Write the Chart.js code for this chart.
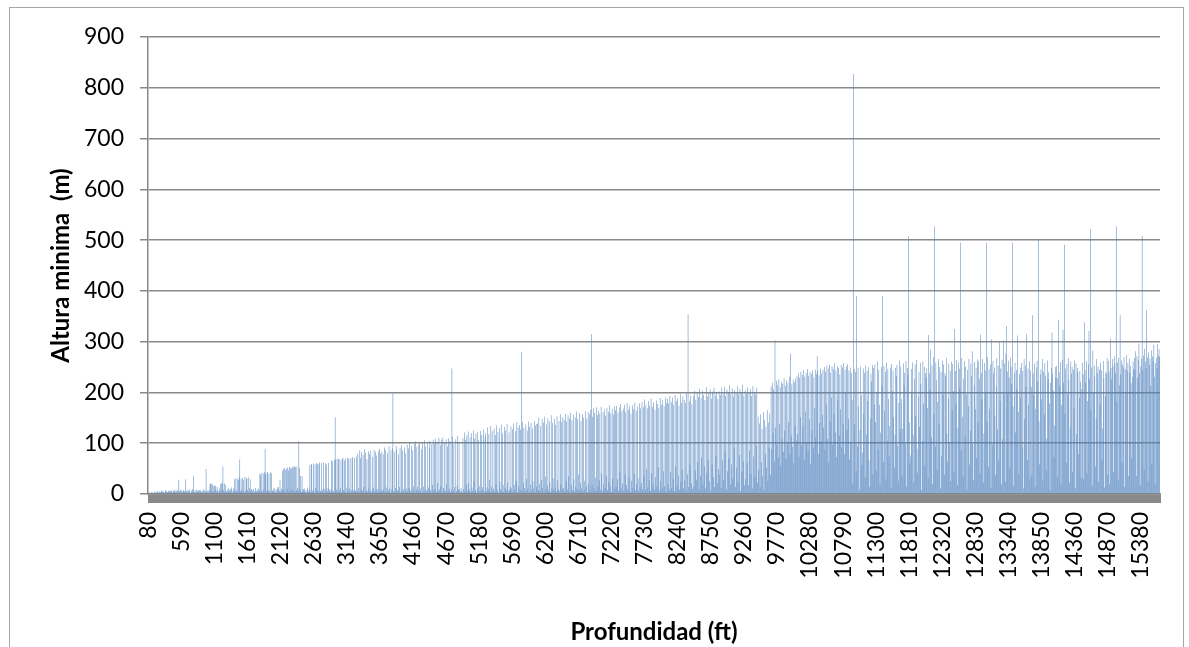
<!DOCTYPE html>
<html>
<head>
<meta charset="utf-8">
<title>Altura minima vs Profundidad</title>
<script src="https://cdn.jsdelivr.net/npm/chart.js@4.4.1/dist/chart.umd.min.js"></script>
<style>
  body { margin: 0; background: #ffffff; }
  canvas { display: block; }
</style>
</head>
<body>
<canvas id="barChart" width="1189" height="647"></canvas>
<script>
// Profundidad: cada 10 ft desde 80 ft
const depthStart = 80;
const depthStep = 10;

// Etiquetas visibles del eje X
const xTickLabels = [80, 590, 1100, 1610, 2120, 2630, 3140, 3650, 4160, 4670, 5180,
  5690, 6200, 6710, 7220, 7730, 8240, 8750, 9260, 9770, 10280, 10790, 11300,
  11810, 12320, 12830, 13340, 13850, 14360, 14870, 15380];

// Altura minima (m), tramo 80 - 4070 ft
const alturaTramo1 = [
  2,1,3,2,1,4,2,3,1,2, 5,3,2,4,6,3,2,5,4,3, 6,7,4,3,5,2,6,8,5,4, 3,6,7,5,4,8,6,3,5,7,
  6,9,4,7,3,8,5,28,6,4, 9,7,3,5,8,6,4,29,7,5, 3,8,6,9,4,2,7,5,10,6, 35,4,8,3,6,9,5,7,4,8,
  5,8,3,6,4,9,2,7,5,49, 6,4,8,3,7,19,21,20,6,18, 4,15,17,9,16,5,14,8,3,6, 11,19,7,22,20,54,8,21,4,18,
  6,3,9,12,5,8,4,10,13,7, 3,11,6,29,5,31,8,30,4,27, 33,68,6,30,9,32,5,28,3,34, 7,31,30,8,33,4,12,29,6,10,
  8,4,10,6,3,12,7,5,9,4, 11,6,40,38,7,42,5,41,9,43, 89,39,6,44,42,8,40,5,43,3, 41,7,6,10,4,12,5,9,3,13,
  9,14,6,28,5,11,7,46,49,8, 51,4,48,50,10,52,47,6,53,51, 9,50,54,7,52,55,5,53,8,54, 12,6,104,51,9,36,4,35,7,10,
  6,11,4,8,3,13,7,5,10,57, 4,59,58,6,9,60,3,58,12,61, 8,59,5,60,62,7,4,61,9,6, 62,11,3,60,8,58,5,12,61,7,
  10,4,66,8,65,6,3,68,151,67, 9,69,5,68,70,7,12,67,4,69, 71,8,66,5,70,3,13,72,6,69, 11,71,4,8,70,73,5,9,71,6,
  7,74,5,80,12,4,86,71,9,82, 6,77,14,88,3,81,8,69,5,84, 11,79,6,85,4,9,73,13,87,5, 83,7,76,10,4,85,89,6,80,8,
  84,6,79,10,92,4,87,13,5,81, 7,94,11,3,86,9,90,198,6,83, 4,12,95,88,8,5,78,14,91,3, 96,7,85,10,4,92,80,6,11,97
];

// tramo 4080 - 8070 ft
const alturaTramo2 = [
  5,90,12,101,7,3,95,86,9,16, 99,4,104,8,93,14,6,97,103,5, 11,88,3,100,15,7,106,94,4,9, 102,6,13,91,105,8,3,98,18,107,
  7,99,10,109,4,102,22,6,111,9, 96,15,107,3,112,12,8,101,5,108, 19,94,6,110,11,104,4,9,247,113, 7,98,14,3,108,6,17,114,10,103,
  8,4,12,6,3,110,10,121,5,107, 18,115,7,123,21,9,112,4,119,13, 6,125,25,109,8,118,3,122,11,106, 16,5,124,7,116,14,9,127,4,113,
  120,6,13,131,9,118,28,4,134,15, 124,7,11,129,5,116,19,135,8,122, 3,130,24,10,137,6,119,17,4,132, 12,125,8,138,22,5,121,9,14,133,
  11,128,5,139,18,8,124,26,141,4, 131,15,136,9,127,280,7,142,21,130, 12,6,137,30,125,9,143,4,133,18, 140,7,129,25,11,144,3,135,14,138,
  139,8,150,19,6,134,28,147,12,141, 5,152,34,9,137,16,149,7,143,22, 4,155,11,140,31,8,148,13,136,5, 153,27,10,144,6,157,18,142,9,151,
  12,146,6,158,24,143,9,155,35,149, 4,160,17,145,8,156,29,5,151,14, 162,10,147,38,7,159,21,144,11,157, 6,150,26,9,163,15,148,4,161,20,
  157,8,166,315,18,152,169,11,160,32, 6,171,155,14,164,27,158,9,172,41, 5,161,19,167,12,154,36,170,8,162, 23,175,15,159,4,168,30,156,10,173,
  165,14,174,29,160,7,171,44,177,11, 163,21,168,6,176,38,161,17,179,9, 166,33,173,5,158,26,175,12,167,40, 180,8,164,19,172,31,6,178,15,169,
  22,181,10,171,37,186,8,175,49,169, 13,183,27,174,6,188,41,172,18,180, 9,166,33,184,14,177,52,170,7,189, 25,176,11,185,45,173,16,190,5,179
];

// tramo 8080 - 12070 ft
const alturaTramo3 = [
  187,19,178,8,193,43,181,12,190,30, 176,6,195,55,183,15,188,36,174,9, 197,24,180,48,192,11,185,27,179,7, 198,39,354,14,182,58,194,21,177,10,
  193,16,203,47,186,28,200,63,191,9, 207,35,189,72,204,18,195,54,185,11, 210,41,192,67,199,25,206,7,188,58, 202,33,209,14,194,76,201,22,187,49,
  202,38,195,12,209,66,198,27,211,83, 193,9,206,45,200,71,214,19,197,58, 208,31,192,90,205,14,199,52,212,24, 196,77,207,6,201,43,215,64,194,17,
  204,29,197,61,210,17,199,85,207,40, 193,11,212,74,201,33,196,96,209,22, 152,48,139,14,157,63,128,35,161,8, 146,79,133,52,165,26,141,91,158,37,
  212,88,219,120,207,64,303,131,223,97, 215,72,226,138,210,56,221,109,217,83, 228,125,213,69,224,101,219,142,231,78, 276,115,216,93,225,61,220,134,227,105,
  232,118,238,74,229,151,241,96,235,133, 244,67,231,162,239,102,246,85,233,147, 240,58,237,125,243,91,230,169,245,112, 236,272,242,79,234,140,247,104,238,156,
  244,131,250,88,241,176,253,109,247,62, 255,143,239,190,251,97,246,158,257,121, 243,73,252,184,248,115,236,167,254,92, 249,138,258,79,245,199,251,126,256,148,
  243,68,249,102,238,185,21,827,246,137, 241,44,390,94,248,173,9,126,251,195, 57,81,247,158,239,33,253,117,242,183, 250,66,14,149,237,221,254,38,248,176,
  255,142,47,199,261,87,244,176,18,121, 250,213,390,63,253,164,241,29,259,105, 246,187,74,134,249,12,256,203,243,151, 52,116,248,232,254,95,26,179,263,128,
  251,187,36,129,257,214,239,98,262,15, 248,235,508,141,61,76,246,201,259,117, 23,226,255,153,264,89,42,192,241,132, 258,217,8,104,261,178,250,55,238,229
];

// tramo 12080 - 15670 ft
const alturaTramo4 = [
  247,169,31,313,238,205,285,112,253,19, 270,158,527,93,259,224,48,181,266,137, 250,11,241,74,263,196,255,38,238,233, 268,119,64,187,257,102,242,25,261,165,
  256,203,44,325,242,178,264,17,131,259, 247,209,495,86,268,152,35,227,262,113, 251,196,9,244,173,266,58,124,257,232, 281,98,27,215,260,167,248,71,265,141,
  261,227,41,314,239,186,266,22,119,258, 243,201,495,142,270,53,246,168,255,13, 305,97,262,238,249,154,37,211,268,127, 253,66,299,183,247,19,264,108,302,196,
  257,24,276,331,241,198,263,229,52,268, 250,217,495,173,16,238,259,121,244,207, 312,162,39,236,249,189,258,92,242,11, 266,147,253,211,315,67,247,176,262,29,
  243,211,37,352,238,195,257,14,168,249, 262,221,501,143,58,236,245,187,266,26, 241,157,258,233,47,109,263,226,240,178, 9,219,248,318,237,204,73,135,250,229,
  252,228,34,343,240,213,259,18,176,264, 324,219,491,158,247,61,256,196,268,225, 22,131,261,237,250,44,245,168,263,12, 257,118,248,240,79,189,242,221,31,207,
  258,236,29,338,244,219,262,41,183,255, 321,227,522,167,249,16,283,201,253,232, 54,148,266,238,251,24,245,176,259,243, 66,129,262,228,13,193,241,237,268,38,
  262,241,19,306,248,226,266,252,43,271, 257,238,527,181,259,27,268,214,352,236, 263,62,255,249,270,14,246,197,274,243, 258,35,267,239,252,218,71,231,261,246,
  268,243,281,36,272,229,264,296,238,17, 251,267,508,244,273,48,286,261,248,362, 269,25,279,255,266,213,283,59,271,262, 294,231,21,258,268,247,296,273,285,270
];

const alturaMinima = [].concat(alturaTramo1, alturaTramo2, alturaTramo3, alturaTramo4);
const depths = alturaMinima.map((_, i) => depthStart + i * depthStep);
const shownLabels = new Set(xTickLabels);

const fontFamily = 'Lato, "Open Sans", sans-serif';
const axisGray = '#898989';

// marco exterior del grafico
const chartFrame = {
  id: 'chartFrame',
  beforeDraw(chart) {
    const c = chart.ctx;
    c.save();
    c.fillStyle = '#ffffff';
    c.fillRect(0, 0, chart.width, chart.height);
    c.strokeStyle = '#a6a6a6';
    c.lineWidth = 1;
    c.strokeRect(9.5, 7.5, 1174, 660);
    c.restore();
  }
};

const ctx = document.getElementById('barChart').getContext('2d');
const myBarChart = new Chart(ctx, {
  type: 'bar',
  data: {
    labels: depths,
    datasets: [{
      label: 'Altura minima',
      data: alturaMinima,
      backgroundColor: '#4F81BD',
      borderWidth: 0,
      categoryPercentage: 0.8,
      barPercentage: 1
    }]
  },
  options: {
    responsive: false,
    animation: false,
    devicePixelRatio: 1,
    layout: { padding: { left: 0, top: 37, right: 29, bottom: 0 } },
    plugins: {
      legend: { display: false },
      tooltip: { enabled: false }
    },
    scales: {
      x: {
        grid: {
          display: true,
          drawOnChartArea: false,
          drawTicks: true,
          tickLength: 9,
          tickColor: axisGray,
          lineWidth: 1
        },
        border: { color: axisGray, width: 1.5 },
        ticks: {
          autoSkip: false,
          minRotation: 90,
          maxRotation: 90,
          padding: 9,
          color: '#000000',
          font: { family: fontFamily, size: 23 },
          callback: function(value, index) {
            const d = depths[index];
            return shownLabels.has(d) ? String(d) : '';
          }
        },
        title: {
          display: true,
          text: 'Profundidad (ft)',
          color: '#000000',
          font: { family: fontFamily, size: 24, weight: 'bold' },
          padding: { top: 0, bottom: 0 }
        },
        afterFit(scale) {
          scale.height = 153;
          // la ultima etiqueta va vacia, no hace falta reservar margen
          scale.paddingLeft = 0;
          scale.paddingRight = 0;
        }
      },
      y: {
        min: 0,
        max: 900,
        ticks: {
          stepSize: 100,
          padding: 16,
          color: '#000000',
          font: { family: fontFamily, size: 23 }
        },
        grid: { color: axisGray, lineWidth: 1.5, tickLength: 8, tickColor: axisGray },
        border: { color: axisGray, width: 1.5 },
        title: {
          display: true,
          text: 'Altura minima  (m)',
          color: '#000000',
          font: { family: fontFamily, size: 24, weight: 'bold' },
          padding: { top: 47, bottom: 0 }
        },
        afterFit(scale) { scale.width = 148; }
      }
    }
  },
  plugins: [chartFrame]
});
</script>
</body>
</html>
